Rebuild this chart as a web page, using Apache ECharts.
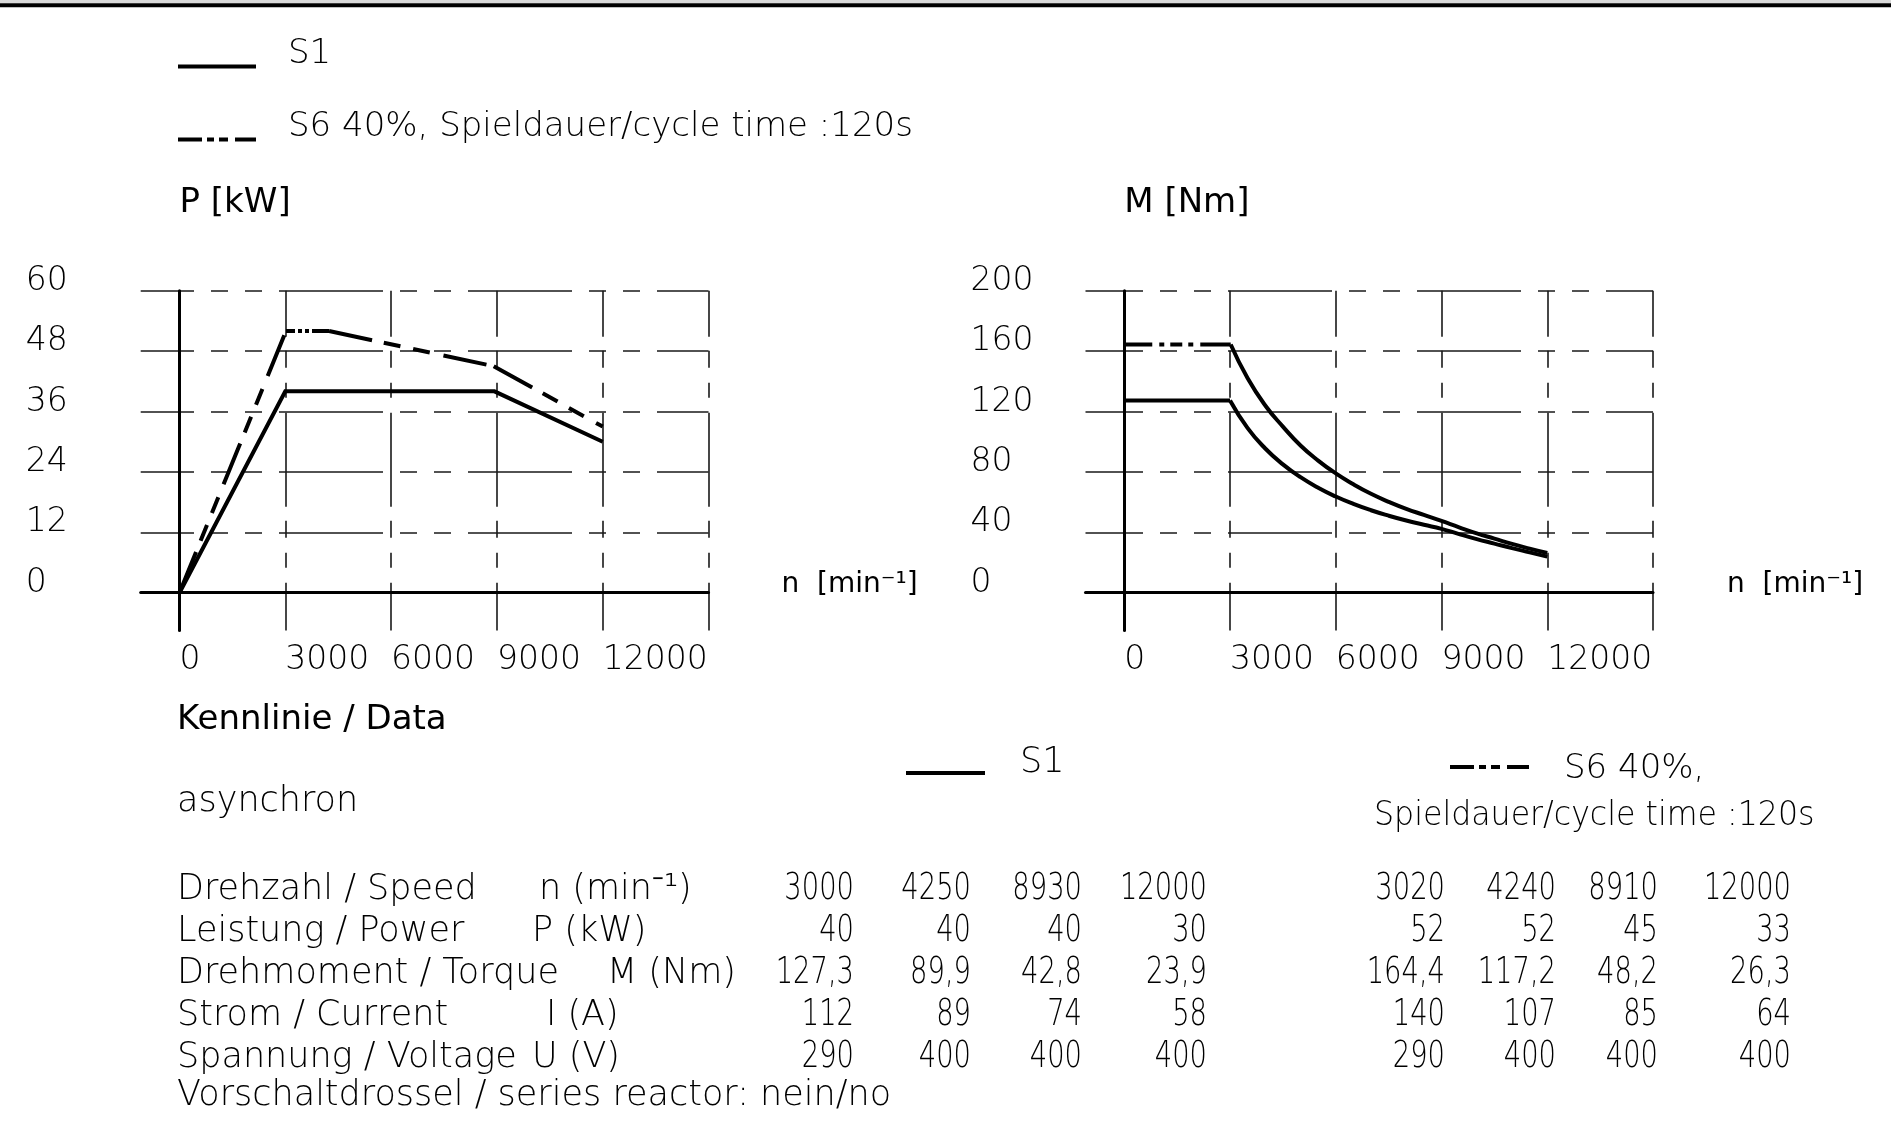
<!DOCTYPE html>
<html>
<head>
<meta charset="utf-8">
<script src="https://cdn.jsdelivr.net/npm/echarts@6/dist/echarts.min.js"></script>
<style>
html,body{margin:0;padding:0;background:#fff;}
#c{width:1891px;height:1136px;}
</style>
</head>
<body>
<div id="c"></div>
<script>
// ---------------- data ----------------
const S1_NAME = 'S1';
const S6_NAME = 'S6 40%, Spieldauer/cycle time :120s';

const speedTicks = [0, 3000, 6000, 9000, 12000, 15000];
const speedLabels = [0, 3000, 6000, 9000, 12000];
const powerTicks = [0, 12, 24, 36, 48, 60];
const torqueTicks = [0, 40, 80, 120, 160, 200];

// S1 operating points (table)
const s1Speed = [3000, 4250, 8930, 12000];
const s1Power = [40, 40, 40, 30];
const s1Torque = [127.3, 89.9, 42.8, 23.9];
const s1Current = [112, 89, 74, 58];
const s1Voltage = [290, 400, 400, 400];

// S6 40% operating points (table)
const s6Speed = [3020, 4240, 8910, 12000];
const s6Power = [52, 52, 45, 33];
const s6Torque = [164.4, 117.2, 48.2, 26.3];
const s6Current = [140, 107, 85, 64];
const s6Voltage = [290, 400, 400, 400];

// torque curves
const s1CurveSpeed = [3000, 3500, 4000, 4500, 5000, 5500, 6000, 6500, 7000, 7500, 8000, 8500, 9000, 9500, 10000, 10500, 11000, 11500, 12000];
const s1CurveTorque = [127.3, 109, 95.5, 85, 76.5, 69.5, 63.7, 58.8, 54.6, 51, 47.8, 45, 42.3, 38.8, 35.5, 32.5, 29.5, 26.7, 23.9];
const s6CurveSpeed = [3020, 3500, 4000, 4500, 5000, 5500, 6000, 6500, 7000, 7500, 8000, 8500, 9000, 9500, 10000, 10500, 11000, 11500, 12000];
const s6CurveTorque = [164.4, 142, 124, 110, 97.5, 87.5, 79, 71.8, 65.5, 60.2, 55.5, 51.5, 47.5, 43.3, 39.3, 35.8, 32.3, 29.2, 26.3];

const rowLabels = ['Drehzahl / Speed', 'Leistung / Power', 'Drehmoment / Torque', 'Strom / Current', 'Spannung / Voltage'];
const rowUnits = ['n (min\u207B\u00B9)', 'P (kW)', 'M (Nm)', 'I (A)', 'U (V)'];

// ---------------- layout / style ----------------
const TXT = "'DejaVu Sans', sans-serif";
const LIGHT = 200;
const rowBase = [902, 944, 986, 1028, 1070];
const unitX = [539, 532, 607, 546, 532];
const s1ColX = [854, 971, 1082, 1207];
const s6ColX = [1445, 1556, 1658, 1791];

const zip = (xs, ys) => xs.map((x, i) => [x, ys[i]]);
const fmt = v => Number.isInteger(v) ? String(v) : v.toFixed(1).replace('.', ',');

function txt(text, x, baseline, fs, weight, align, sx) {
  return {
    type: 'text', x: x, y: baseline - 0.346 * fs, silent: true,
    scaleX: sx || 1,
    style: {
      text: text, font: (weight || LIGHT) + ' ' + fs + 'px ' + TXT,
      fill: '#000', align: align || 'left', verticalAlign: 'middle'
    }
  };
}

function xAxisCfg(gi) {
  return {
    type: 'value', gridIndex: gi, min: -1100, max: 15000,
    axisLine: { show: true, onZero: true, lineStyle: { color: '#000', width: 3 } },
    axisTick: { show: false, customValues: speedTicks },
    axisLabel: { customValues: speedLabels, formatter: v => String(v), align: 'left', verticalAlign: 'middle', margin: 29.5,
      fontFamily: TXT, fontWeight: LIGHT, fontSize: 33, color: '#000' },
    splitLine: { show: true, lineStyle: { color: '#1a1a1a', width: 1.6, type: [94, 14, 17, 15, 15, 15], dashOffset: 48 } },
    name: 'n  [min\u207B\u00B9]', nameLocation: 'end', nameGap: gi === 0 ? 73 : 74,
    nameTextStyle: { fontFamily: TXT, fontSize: 28, fontWeight: 'normal', color: '#000',
      align: 'left', verticalAlign: 'bottom', lineHeight: 16 }
  };
}
function yAxisCfg(gi, min, max, ticks, name, off) {
  return {
    type: 'value', gridIndex: gi, min: min, max: max,
    axisLine: { show: true, onZero: true, lineStyle: { color: '#000', width: 3 } },
    axisTick: { show: false, customValues: ticks },
    axisLabel: { customValues: ticks, formatter: v => String(v), align: 'left', verticalAlign: 'bottom', lineHeight: 19, margin: 115,
      fontFamily: TXT, fontWeight: LIGHT, fontSize: 33, color: '#000' },
    splitLine: { show: true, lineStyle: { color: '#1a1a1a', width: 1.6, type: [104, 17, 17, 17, 17, 17], dashOffset: off } },
    name: name, nameLocation: 'end', nameGap: 87.5,
    nameTextStyle: { fontFamily: TXT, fontSize: 34, fontWeight: 'normal', color: '#000', align: 'left', verticalAlign: 'middle' }
  };
}
function line(name, gi, data, dash, extra) {
  return Object.assign({
    type: 'line', name: name, xAxisIndex: gi, yAxisIndex: gi, data: data,
    symbol: 'none', showSymbol: false, silent: true, z: 5,
    itemStyle: { color: '#000' },
    lineStyle: { color: '#000', width: 4, type: dash || 'solid', cap: 'butt', join: 'miter' }
  }, extra || {});
}

// power polylines
const s1PowerPts = zip([0].concat(s1Speed), [0].concat(s1Power));
const s6PowerPts = zip([0].concat(s6Speed), [0].concat(s6Power));
const dashRise = [44, 12, 17, 13, 17, 14];
const dashFlat = [9, 3, 4, 3, 4, 3, 40];
const dashFall = [44, 12, 17, 13, 17, 14];
const dashTorqueFlat = [28, 7, 5, 6, 12, 6, 5, 7, 60];

const series = [
  line(S1_NAME, 0, s1PowerPts),
  line(S6_NAME, 0, s6PowerPts.slice(0, 2), dashRise),
  line(S6_NAME, 0, s6PowerPts.slice(1, 3), dashFlat),
  line(S6_NAME, 0, s6PowerPts.slice(2, 4), dashFall),
  line(S6_NAME, 0, s6PowerPts.slice(3, 5), dashFall),
  line(S1_NAME, 1, [[0, s1Torque[0]], [s1Speed[0], s1Torque[0]]]),
  line(S1_NAME, 1, zip(s1CurveSpeed, s1CurveTorque), null, { smooth: 0.5 }),
  line(S6_NAME, 1, [[0, s6Torque[0]], [s6Speed[0], s6Torque[0]]], dashTorqueFlat),
  line(S6_NAME, 1, zip(s6CurveSpeed, s6CurveTorque), null, { smooth: 0.5 })
];

// ---------------- graphic (frame + data table) ----------------
const NUMSX = 0.72;
const graphic = [
  { type: 'rect', silent: true, shape: { x: 0, y: 0, width: 1891, height: 3.3 }, style: { fill: '#d9d9d9' } },
  { type: 'rect', silent: true, shape: { x: 0, y: 3.3, width: 1891, height: 4 }, style: { fill: '#000' } },
  txt('Kennlinie / Data', 177, 732, 34, 'normal'),
  txt('asynchron', 177, 814, 35),
  // table header legends
  { type: 'line', silent: true, shape: { x1: 906, y1: 773, x2: 985, y2: 773 }, style: { stroke: '#000', lineWidth: 4 } },
  txt('S1', 1020, 775, 35),
  { type: 'line', silent: true, shape: { x1: 1450, y1: 767, x2: 1529, y2: 767 }, style: { stroke: '#000', lineWidth: 4, lineDash: [24, 5, 7, 5, 9, 7, 40] } },
  txt('S6 40%,', 1564, 781, 34),
  txt('Spieldauer/cycle time :120s', 1374, 828, 34, LIGHT, 'left', 0.93),
  txt('Vorschaltdrossel / series reactor: nein/no', 177, 1108, 35)
];
const s1Rows = [s1Speed, s1Power, s1Torque, s1Current, s1Voltage];
const s6Rows = [s6Speed, s6Power, s6Torque, s6Current, s6Voltage];
rowLabels.forEach((lab, r) => {
  graphic.push(txt(lab, 177, rowBase[r], 35));
  graphic.push(txt(rowUnits[r], unitX[r], rowBase[r], 35));
  s1Rows[r].forEach((v, c) => graphic.push(txt(fmt(v), s1ColX[c], rowBase[r], 38, LIGHT, 'right', NUMSX)));
  s6Rows[r].forEach((v, c) => graphic.push(txt(fmt(v), s6ColX[c], rowBase[r], 38, LIGHT, 'right', NUMSX)));
});

const option = {
  animation: false,
  backgroundColor: '#fff',
  textStyle: { fontFamily: TXT, color: '#000' },
  legend: {
    orient: 'vertical', left: 178, top: 37.6, padding: 0, itemGap: 39,
    itemWidth: 78, itemHeight: 4, selectedMode: false,
    formatter: n => '{t|' + n + '}',
    textStyle: {
      fontFamily: TXT, fontSize: 34, fontWeight: LIGHT, color: '#000',
      rich: { t: { fontFamily: TXT, fontSize: 34, fontWeight: LIGHT, color: '#000', padding: [0, 0, 24, 27] } }
    },
    data: [
      { name: S1_NAME, icon: 'rect', itemStyle: { color: '#000', borderWidth: 0 } },
      { name: S6_NAME, icon: 'path://M0,0h24v4h-24z M29,0h7v4h-7z M41,0h9v4h-9z M57,0h21v4h-21z',
        itemStyle: { color: '#000', borderWidth: 0 } }
    ]
  },
  grid: [
    { left: 140.7, top: 290.7, width: 567.8, height: 339.75, outerBoundsMode: 'none', containLabel: false },
    { left: 1085.5, top: 290.7, width: 567.5, height: 339.75, outerBoundsMode: 'none', containLabel: false }
  ],
  xAxis: [xAxisCfg(0), xAxisCfg(1)],
  yAxis: [
    yAxisCfg(0, -7.5, 60, powerTicks, 'P [kW]', 50.7),
    yAxisCfg(1, -25, 200, torqueTicks, 'M [Nm]', 46.5)
  ],
  series: series,
  graphic: graphic
};

const chart = echarts.init(document.getElementById('c'), null, { renderer: 'canvas' });
chart.setOption(option);
</script>
</body>
</html>
